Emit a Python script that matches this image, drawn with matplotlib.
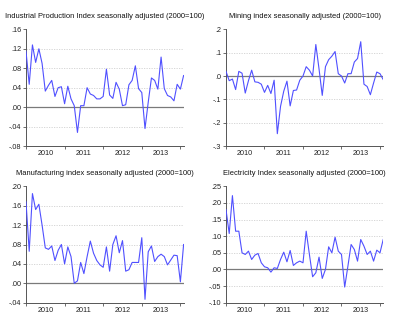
import matplotlib
matplotlib.use("Agg")
import matplotlib.pyplot as plt
import numpy as np

plt.rcParams['font.family'] = ['Liberation Sans', 'DejaVu Sans']

years = ["2010", "2011", "2012", "2013"]

industrial = [0.115, 0.047, 0.128, 0.092, 0.12, 0.09, 0.033, 0.045, 0.055, 0.022,
              0.04, 0.042, 0.007, 0.043, 0.017, 0.003, -0.052, 0.003, 0.003, 0.04,
              0.027, 0.024, 0.017, 0.017, 0.022, 0.078, 0.025, 0.018, 0.051, 0.037,
              0.003, 0.005, 0.046, 0.055, 0.085, 0.038, 0.03, -0.044, 0.01, 0.06,
              0.055, 0.037, 0.103, 0.038, 0.024, 0.021, 0.013, 0.047, 0.037, 0.065]

mining = [0.02, -0.02, -0.013, -0.058, 0.02, 0.012, -0.073, -0.02, 0.025, -0.025,
          -0.027, -0.035, -0.07, -0.04, -0.075, -0.018, -0.247, -0.13, -0.065, -0.022,
          -0.128, -0.062, -0.06, -0.018, 0.0, 0.04, 0.025, 0.0, 0.135, 0.03,
          -0.083, 0.04, 0.07, 0.085, 0.105, 0.01, 0.0, -0.03, 0.01, 0.01,
          0.06, 0.075, 0.147, -0.035, -0.045, -0.08, -0.03, 0.017, 0.01, -0.015]

manufacturing = [0.168, 0.066, 0.185, 0.152, 0.163, 0.12, 0.073, 0.07, 0.077, 0.047,
                 0.068, 0.08, 0.04, 0.075, 0.055, 0.0, 0.005, 0.043, 0.02, 0.055,
                 0.087, 0.062, 0.047, 0.038, 0.033, 0.075, 0.025, 0.08, 0.098, 0.063,
                 0.088, 0.025, 0.028, 0.043, 0.043, 0.043, 0.094, -0.033, 0.065, 0.077,
                 0.045, 0.055, 0.06, 0.055, 0.038, 0.048, 0.058, 0.057, 0.003, 0.08]

electricity = [0.18, 0.108, 0.222, 0.115, 0.115, 0.05, 0.045, 0.055, 0.03, 0.043,
               0.048, 0.02, 0.008, 0.005, -0.008, 0.005, 0.003, 0.03, 0.052, 0.023,
               0.057, 0.012, 0.02, 0.025, 0.02, 0.115, 0.045, -0.022, -0.01, 0.037,
               -0.027, 0.0, 0.068, 0.05, 0.097, 0.055, 0.045, -0.053, 0.01, 0.075,
               0.06, 0.025, 0.09, 0.07, 0.045, 0.055, 0.025, 0.058, 0.05, 0.09]

titles = ["Industrial Production Index seasonally adjusted (2000=100)",
          "Mining index seasonally adjusted (2000=100)",
          "Manufacturing index seasonally adjusted (2000=100)",
          "Electricity Index seasonally adjusted (2000=100)"]

ind_ticks = [-0.08, -0.04, 0.0, 0.04, 0.08, 0.12, 0.16]
ind_labels = ["-.08", "-.04", ".00", ".04", ".08", ".12", ".16"]
min_ticks = [-0.3, -0.2, -0.1, 0.0, 0.1, 0.2]
min_labels = ["-.3", "-.2", "-.1", ".0", ".1", ".2"]
man_ticks = [-0.04, 0.0, 0.04, 0.08, 0.12, 0.16, 0.20]
man_labels = ["-.04", ".00", ".04", ".08", ".12", ".16", ".20"]
ele_ticks = [-0.10, -0.05, 0.0, 0.05, 0.10, 0.15, 0.20, 0.25]
ele_labels = ["-.10", "-.05", ".00", ".05", ".10", ".15", ".20", ".25"]

panels = [
    (industrial, titles[0], ind_ticks, ind_labels, [0.065, 0.552, 0.394, 0.358]),
    (mining, titles[1], min_ticks, min_labels, [0.565, 0.552, 0.393, 0.358]),
    (manufacturing, titles[2], man_ticks, man_labels, [0.065, 0.0715, 0.394, 0.357]),
    (electricity, titles[3], ele_ticks, ele_labels, [0.565, 0.0715, 0.393, 0.357]),
]

fig = plt.figure(figsize=(4, 3.26), dpi=100)
fig.patch.set_facecolor("white")

for data, title, yt, yl, rect in panels:
    ax = fig.add_axes(rect)
    x = np.arange(len(data))
    for t in yt[1:-1]:
        if t == 0:
            ax.axhline(0, color="#7a7a7a", lw=0.9, zorder=1)
        else:
            ax.axhline(t, color="#d0d0d0", lw=0.6, ls=(0, (1.5, 1.5)), zorder=1)
    ax.plot(x, data, color="#5050ff", lw=0.8, zorder=3)
    ax.set_xlim(0, len(data) - 1)
    ax.set_ylim(yt[0], yt[-1])
    ax.set_yticks(yt)
    ax.set_yticklabels(yl)
    ax.set_xticks([0, 12, 24, 36, 48])
    ax.set_xticklabels([])
    ax.set_xticks([6, 18, 30, 42], minor=True)
    ax.set_xticklabels(years, minor=True)
    ax.tick_params(axis="x", which="minor", length=0, labelsize=5.2, pad=3, colors="#222222")
    ax.tick_params(axis="x", which="major", length=2.5, width=0.6, color="#555555")
    ax.tick_params(axis="y", length=2, width=0.6, labelsize=5.2, pad=1.5, colors="#222222")
    ax.tick_params(axis="y", color="#555555")
    for s in ["top", "right"]:
        ax.spines[s].set_visible(False)
    for s in ["left", "bottom"]:
        ax.spines[s].set_color("#555555")
        ax.spines[s].set_linewidth(0.7)
    ax.set_title(title, fontsize=5.4, pad=8, color="#111111")

fig.savefig("out.png", dpi=100)
